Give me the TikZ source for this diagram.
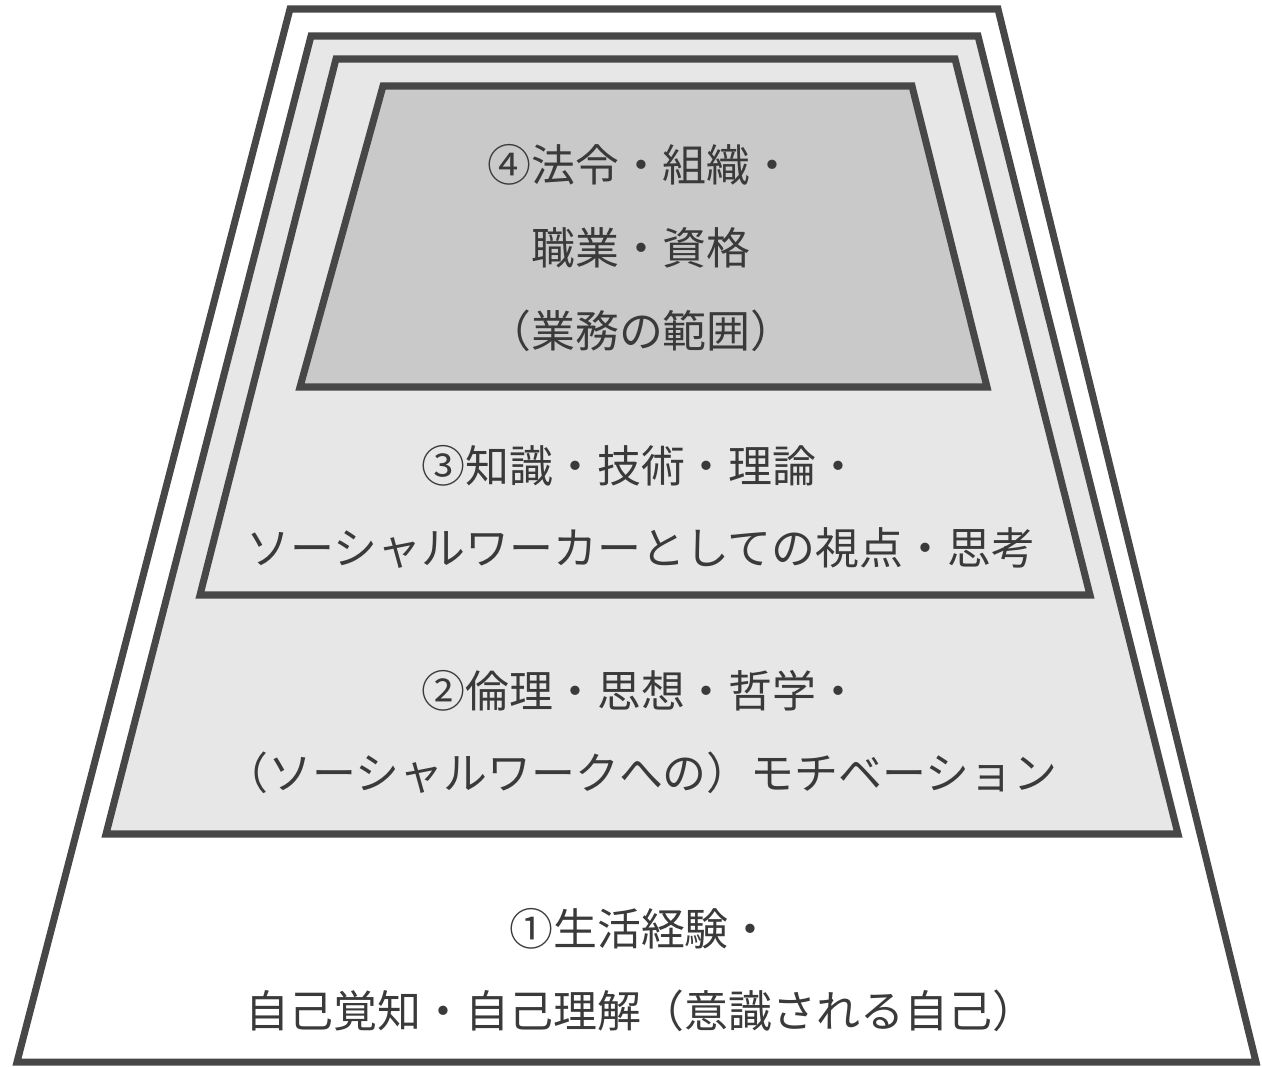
\documentclass[tikz,border=0pt]{standalone}
\usepackage{fontspec}
\newfontfamily\jp{Noto Sans CJK JP}
\usepackage{tikz}
\usetikzlibrary{positioning}

\definecolor{linegray}{HTML}{474747}
\definecolor{textgray}{HTML}{3A3A3A}
\definecolor{palegray}{HTML}{E7E7E7}
\definecolor{midgray}{HTML}{C9C9C9}

\begin{document}
\begin{tikzpicture}[x=0.02cm,y=-0.02cm,
 layer/.style={draw=linegray,line width=4pt,line join=miter},
 level text/.style={text=textgray,align=center,
   font=\jp\fontsize{25}{47}\selectfont}]
  \useasboundingbox (0,0) rectangle (1262,1066);

  % nested layers, outer first: top-left x, top-right x, bottom-right x, bottom-left x, top y, bottom y
  \foreach \tl/\tr/\br/\bl/\yt/\yb/\col in {
      290/998/1256/17/9/1062/white,
      311/978/1178/106/36/834/palegray,
      336/955/1090/200/59/595/palegray,
      383/912/987/300/86/387/midgray} {
   \filldraw[layer,fill=\col] (\tl,\yt) -- (\tr,\yt) -- (\br,\yb) -- (\bl,\yb) -- cycle;}

  \node[level text] (l4) at (641,248) {④法令・組織・\\職業・資格\\（業務の範囲）};
  \node[level text] (l3) at (641,507) {③知識・技術・理論・\\ソーシャルワーカーとしての視点・思考};
  \node[level text] (l2) at (641,732) {②倫理・思想・哲学・\\（ソーシャルワークへの）モチベーション};
  \node[level text] (l1) at (641,970) {①生活経験・\\自己覚知・自己理解（意識される自己）};
\end{tikzpicture}
\end{document}
